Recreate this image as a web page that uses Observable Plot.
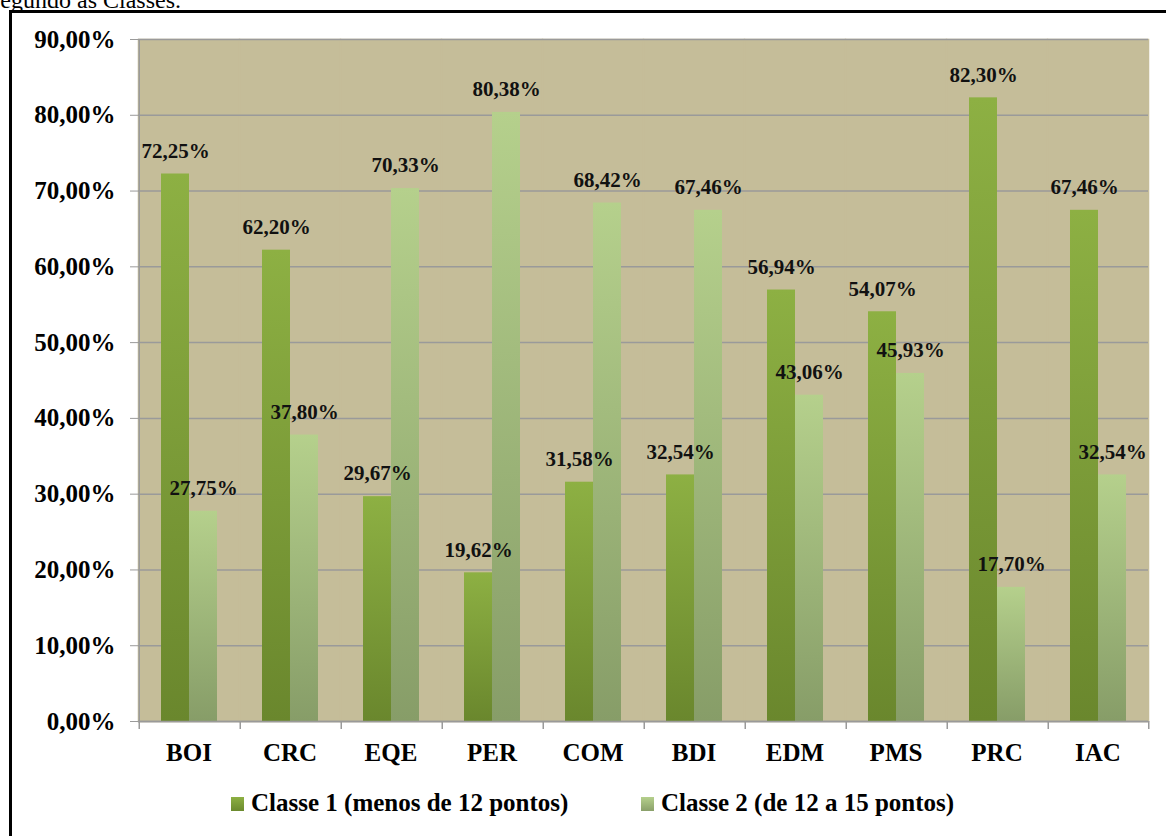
<!DOCTYPE html>
<html>
<head>
<meta charset="utf-8">
<script src="https://cdn.jsdelivr.net/npm/d3@7"></script>
<script src="https://cdn.jsdelivr.net/npm/@observablehq/plot@0.6"></script>
<style>
  html, body { margin: 0; padding: 0; background: #fff; width: 1166px; height: 836px; overflow: hidden; position: relative; }
  .serif { font-family: "Liberation Serif", "Times New Roman", serif; }
  #pre { position: absolute; left: -9px; top: -12px; font-size: 24px; line-height: 24px; white-space: nowrap; color: #000; }
  #frame { position: absolute; left: 9px; top: 10px; width: 1200px; height: 900px; border: 3px solid #000; box-sizing: border-box; pointer-events: none; }
  #chart { position: absolute; left: 0; top: 0; }
  .leg { position: absolute; top: 790px; font-size: 25px; line-height: 25px; font-weight: bold; white-space: nowrap; color: #000; }
  .sw { display: inline-block; width: 13px; height: 14px; margin-right: 7px; vertical-align: baseline; }
</style>
</head>
<body>
<div id="pre" class="serif">segundo as Classes.</div>
<div id="chart"></div>
<div id="frame"></div>
<div class="leg serif" style="left:231px"><span class="sw" style="background:linear-gradient(#8db043,#6b8a2e)"></span>Classe 1 (menos de 12 pontos)</div>
<div class="leg serif" style="left:641px"><span class="sw" style="background:linear-gradient(#b5d08c,#8aa06a)"></span>Classe 2 (de 12 a 15 pontos)</div>
<script>
const categories = ["BOI", "CRC", "EQE", "PER", "COM", "BDI", "EDM", "PMS", "PRC", "IAC"];
const seriesNames = ["Classe 1 (menos de 12 pontos)", "Classe 2 (de 12 a 15 pontos)"];
const classe1 = [72.25, 62.20, 29.67, 19.62, 31.58, 32.54, 56.94, 54.07, 82.30, 67.46];
const classe2 = [27.75, 37.80, 70.33, 80.38, 68.42, 67.46, 43.06, 45.93, 17.70, 32.54];
const yTicks = [0, 10, 20, 30, 40, 50, 60, 70, 80, 90];

const fmt = v => v.toFixed(2).replace(".", ",") + "%";

const rows = [];
categories.forEach((c, i) => {
  rows.push({cat: c, series: seriesNames[0], value: classe1[i]});
  rows.push({cat: c, series: seriesNames[1], value: classe2[i]});
});
const rows1 = rows.filter(d => d.series === seriesNames[0]);
const rows2 = rows.filter(d => d.series === seriesNames[1]);

const W = 1166, H = 760, ML = 135, MR = 16, MT = 39, MB = 39;
const step = (W - ML - MR) / categories.length;
const padOuter = 0.75;
// distance from a facet's edge to the centre of its outer x band
const edgeToBand = step * (padOuter + 0.5) / (seriesNames.length + 2 * padOuter);
const serif = "'Liberation Serif', 'Times New Roman', serif";
const gray = "#9a9a9a";

const plot = Plot.plot({
  width: W,
  height: H,
  marginLeft: ML,
  marginRight: MR,
  marginTop: MT,
  marginBottom: MB,
  style: {fontFamily: serif, background: "transparent", overflow: "visible"},
  fx: {domain: categories, padding: 0, label: null},
  x: {domain: seriesNames, paddingInner: 0, paddingOuter: padOuter, axis: null},
  y: {domain: [0, 90], label: null},
  marks: [
    Plot.frame({fill: "#c5bd99", stroke: "#c5bd99", strokeWidth: 1.5}),
    Plot.gridY(yTicks, {stroke: gray, strokeOpacity: 1, strokeWidth: 1.5}),
    Plot.barY(rows1, {fx: "cat", x: "series", y: "value", fill: "url(#g1)"}),
    Plot.barY(rows2, {fx: "cat", x: "series", y: "value", fill: "url(#g2)"}),
    Plot.ruleY([0], {stroke: gray, strokeWidth: 1.5}),
    // left border of the plotting area, only in the first facet
    Plot.ruleX([rows1[0]], {fx: "cat", x: "series", y1: 0, y2: 90, dx: -edgeToBand, stroke: gray, strokeWidth: 1.5}),
    // category boundary ticks below the baseline
    Plot.ruleX(rows1, {fx: "cat", x: "series", y1: 0, y2: 0, insetBottom: -8, dx: -edgeToBand, stroke: gray, strokeWidth: 1.5}),
    Plot.ruleX([rows2[rows2.length - 1]], {fx: "cat", x: "series", y1: 0, y2: 0, insetBottom: -8, dx: edgeToBand, stroke: gray, strokeWidth: 1.5}),
    Plot.text(rows, {fx: "cat", x: "series", y: "value", text: d => fmt(d.value), dy: -23, fontSize: 21, fontWeight: "bold", fill: "#111"}),
    Plot.axisY(yTicks, {tickSize: 8, tickPadding: 15, tickFormat: fmt, fontSize: 25, fontWeight: "bold", stroke: gray, fill: "#000", label: null}),
    Plot.axisFx({anchor: "bottom", tickSize: 0, tickPadding: 22, fontSize: 25, fontWeight: "bold", fill: "#000", label: null})
  ]
});

// gradient definitions for the bar fills
const NS = "http://www.w3.org/2000/svg";
const defs = document.createElementNS(NS, "defs");
[["g1", "#8db043", "#6a872d"], ["g2", "#b5d08c", "#879d68"]].forEach(([id, top, bottom]) => {
  const lg = document.createElementNS(NS, "linearGradient");
  lg.setAttribute("id", id);
  lg.setAttribute("x1", "0"); lg.setAttribute("y1", "0");
  lg.setAttribute("x2", "0"); lg.setAttribute("y2", "1");
  [["0", top], ["1", bottom]].forEach(([o, c]) => {
    const s = document.createElementNS(NS, "stop");
    s.setAttribute("offset", o);
    s.setAttribute("stop-color", c);
    lg.appendChild(s);
  });
  defs.appendChild(lg);
});
plot.insertBefore(defs, plot.firstChild);
document.getElementById("chart").appendChild(plot);
</script>
</body>
</html>
